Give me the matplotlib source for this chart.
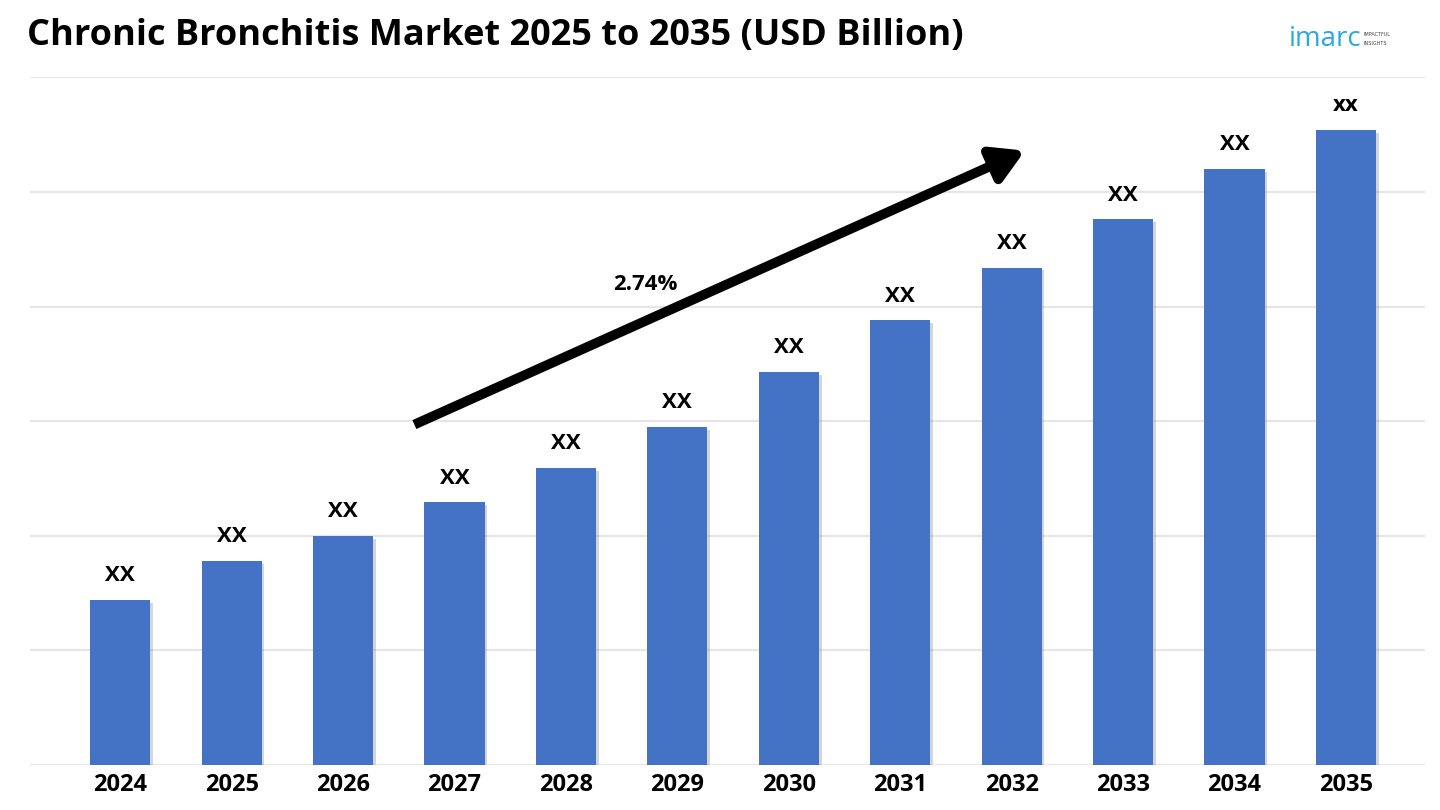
import numpy as np
import matplotlib
matplotlib.use("Agg")
import matplotlib.pyplot as plt
import matplotlib.patheffects as pe

# données du graphique
annees = ["2024", "2025", "2026", "2027", "2028", "2029",
          "2030", "2031", "2032", "2033", "2034", "2035"]
valeurs = [1.44, 1.78, 2.00, 2.29, 2.59, 2.95, 3.43, 3.88, 4.34, 4.76, 5.20, 5.54]
etiquettes = ["XX"] * 11 + ["xx"]
titre = "Chronic Bronchitis Market 2025 to 2035 (USD Billion)"
tcac = "2.74%"

bleu = "#4472C4"

fig = plt.figure(figsize=(14.4, 8.1), dpi=100)
ax = fig.add_axes([0.0208, 0.0556, 0.9688, 0.849])

x = np.arange(len(annees))
barres = ax.bar(x, valeurs, width=0.54, color=bleu, zorder=3)
for b in barres:
    b.set_path_effects([pe.SimplePatchShadow(offset=(2, -2), shadow_rgbFace="#777777", alpha=0.3),
                        pe.Normal()])

for xi, v, lab in zip(x, valeurs, etiquettes):
    ax.text(xi, v + 0.12, lab, ha="center", va="bottom", fontsize=16,
            fontweight="bold", family="Open Sans", color="black")

ax.set_xlim(-0.81, 11.71)
ax.set_ylim(0, 6)
ax.set_yticks(np.arange(0, 7, 1))
ax.yaxis.grid(True, color="#e6e6e6", linewidth=1.6, zorder=0)
ax.tick_params(left=False, labelleft=False, bottom=False)
for s in ax.spines.values():
    s.set_visible(False)
ax.set_xticks(x)
ax.set_xticklabels(annees, fontsize=17, fontweight="bold", family="Open Sans")
ax.tick_params(axis="x", pad=2)

# flèche de croissance
ax.annotate("", xy=(8.12, 5.36), xytext=(2.64, 2.97),
            arrowprops=dict(arrowstyle="-|>,head_length=1.9,head_width=1.1",
                            color="black", lw=7, shrinkA=0, shrinkB=0,
                            capstyle="butt"),
            zorder=5)
ax.text(4.71, 4.19, tcac, ha="center", va="center", fontsize=16,
        fontweight="bold", family="Open Sans")

fig.text(0.019, 0.956, titre, ha="left", va="center", fontsize=26,
         fontweight="bold", family="Open Sans")

# logo
fig.text(0.895, 0.952, "imarc", ha="left", va="center", fontsize=20,
         color="#2aa8e4", family="Open Sans")
fig.text(0.947, 0.958, "IMPACTFUL", ha="left", va="center", fontsize=3.5,
         color="#444444", family="DejaVu Sans")
fig.text(0.947, 0.946, "INSIGHTS", ha="left", va="center", fontsize=3.5,
         color="#444444", family="DejaVu Sans")

fig.savefig("out.png", dpi=100, facecolor="white")
